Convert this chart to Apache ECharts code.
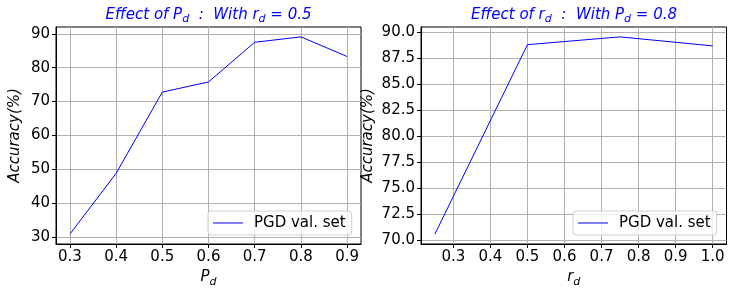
<!DOCTYPE html>
<html>
<head>
<meta charset="utf-8">
<script src="https://cdn.jsdelivr.net/npm/echarts@6/dist/echarts.min.js"></script>
<style>
html,body{margin:0;padding:0;background:#fff;}
#c{width:736px;height:296px;}
</style>
</head>
<body>
<div id="c"></div>
<script>
// ---- data ----
const pdValues = [0.3, 0.4, 0.5, 0.6, 0.7, 0.8, 0.9];
const pdAccuracy = [30.9, 48.8, 72.8, 75.8, 87.5, 89.1, 83.3];
const rdValues = [0.25, 0.5, 0.75, 1.0];
const rdAccuracy = [70.57, 88.8, 89.55, 88.68];
const leftXTicks = [0.3, 0.4, 0.5, 0.6, 0.7, 0.8, 0.9];
const leftYTicks = [30, 40, 50, 60, 70, 80, 90];
const rightXTicks = [0.3, 0.4, 0.5, 0.6, 0.7, 0.8, 0.9, 1.0];
const rightYTicks = [70, 72.5, 75, 77.5, 80, 82.5, 85, 87.5, 90];
const seriesName = 'PGD val. set';

function pad(arr) {
  const lo = Math.min(...arr), hi = Math.max(...arr), m = (hi - lo) * 0.05;
  return [lo - m, hi + m];
}
const lx = pad(pdValues), ly = pad(pdAccuracy), rx = pad(rdValues), ry = pad(rdAccuracy);

const FONT = 'DejaVu Sans';
const gridColor = '#b0b0b0';
function makeRich(color) {
  return {
    i: {fontFamily: FONT, fontStyle: 'italic', fontWeight: 'normal', fontSize: 15, color: color, lineHeight: 20, verticalAlign: 'middle'},
    s: {fontFamily: FONT, fontStyle: 'italic', fontWeight: 'normal', fontSize: 11, color: color, lineHeight: 13, verticalAlign: 'bottom'}
  };
}
const richBlue = makeRich('#0000ff');
const richBlack = makeRich('#000');

function xAxis(idx, range, ticks, nameText) {
  return {
    type: 'value', gridIndex: idx, min: range[0], max: range[1],
    name: nameText, nameLocation: 'middle', nameGap: 23,
    nameTextStyle: {rich: richBlack},
    axisLine: {show: true, onZero: false, lineStyle: {color: '#000', width: 1}},
    axisTick: {show: true, customValues: ticks, length: 4, lineStyle: {color: '#000'}},
    axisLabel: {customValues: ticks, formatter: v => v.toFixed(1), fontFamily: FONT, fontSize: 15, color: '#000', margin: 6},
    splitLine: {show: true, lineStyle: {color: gridColor, width: 1}}
  };
}
function yAxis(idx, range, ticks, gap, fmt) {
  return {
    type: 'value', gridIndex: idx, min: range[0], max: range[1],
    name: 'Accuracy(%)', nameLocation: 'middle', nameGap: gap, nameRotate: 90,
    nameTextStyle: {fontFamily: FONT, fontStyle: 'italic', fontSize: 15, color: '#000'},
    axisLine: {show: true, onZero: false, lineStyle: {color: '#000', width: 1}},
    axisTick: {show: true, customValues: ticks, length: 4, lineStyle: {color: '#000'}},
    axisLabel: {customValues: ticks, formatter: fmt, fontFamily: FONT, fontSize: 15, color: '#000', margin: 6},
    splitLine: {show: true, lineStyle: {color: gridColor, width: 1}}
  };
}
function legend(left) {
  return {
    data: [{name: seriesName, icon: 'rect', itemStyle: {color: '#0000ff'}}], left: left, top: 211, orient: 'vertical',
    backgroundColor: 'rgba(255,255,255,0.8)', borderColor: '#d0d0d0', borderWidth: 1, borderRadius: 3,
    padding: [4, 6, 4, 5], itemWidth: 30, itemHeight: 1,
    textStyle: {fontFamily: FONT, fontSize: 15, color: '#000', padding: [0, 0, 0, 6], lineHeight: 16}
  };
}

const option = {
  animation: false,
  backgroundColor: '#fff',
  title: [
    {text: '{i|Effect of P}{s|d}{i|  :  With r}{s|d}{i| = 0.5}', left: 208.5, top: 5, padding: 0, textAlign: 'center', textStyle: {fontWeight: 'normal', rich: richBlue}},
    {text: '{i|Effect of r}{s|d}{i|  :  With P}{s|d}{i| = 0.8}', left: 574, top: 5, padding: 0, textAlign: 'center', textStyle: {fontWeight: 'normal', rich: richBlue}}
  ],
  grid: [
    {left: 56, top: 27, width: 305, height: 217, show: true, borderColor: '#000', borderWidth: 1, backgroundColor: 'transparent'},
    {left: 421, top: 27, width: 305.5, height: 217, show: true, borderColor: '#000', borderWidth: 1, backgroundColor: 'transparent'}
  ],
  xAxis: [
    xAxis(0, lx, leftXTicks, '{i|P}{s|d}'),
    xAxis(1, rx, rightXTicks, '{i|r}{s|d}')
  ],
  yAxis: [
    yAxis(0, ly, leftYTicks, 33, v => String(Math.round(v))),
    yAxis(1, ry, rightYTicks, 45, v => v.toFixed(1))
  ],
  legend: [legend(208), legend(573)],
  series: [
    {name: seriesName, type: 'line', xAxisIndex: 0, yAxisIndex: 0, data: pdValues.map((x, i) => [x, pdAccuracy[i]]),
     symbol: 'none', lineStyle: {color: '#0000ff', width: 1}, itemStyle: {color: '#0000ff'}},
    {name: seriesName, type: 'line', xAxisIndex: 1, yAxisIndex: 1, data: rdValues.map((x, i) => [x, rdAccuracy[i]]),
     symbol: 'none', lineStyle: {color: '#0000ff', width: 1}, itemStyle: {color: '#0000ff'}}
  ]
};
echarts.init(document.getElementById('c'), null, {renderer: 'canvas'}).setOption(option);
</script>
</body>
</html>
